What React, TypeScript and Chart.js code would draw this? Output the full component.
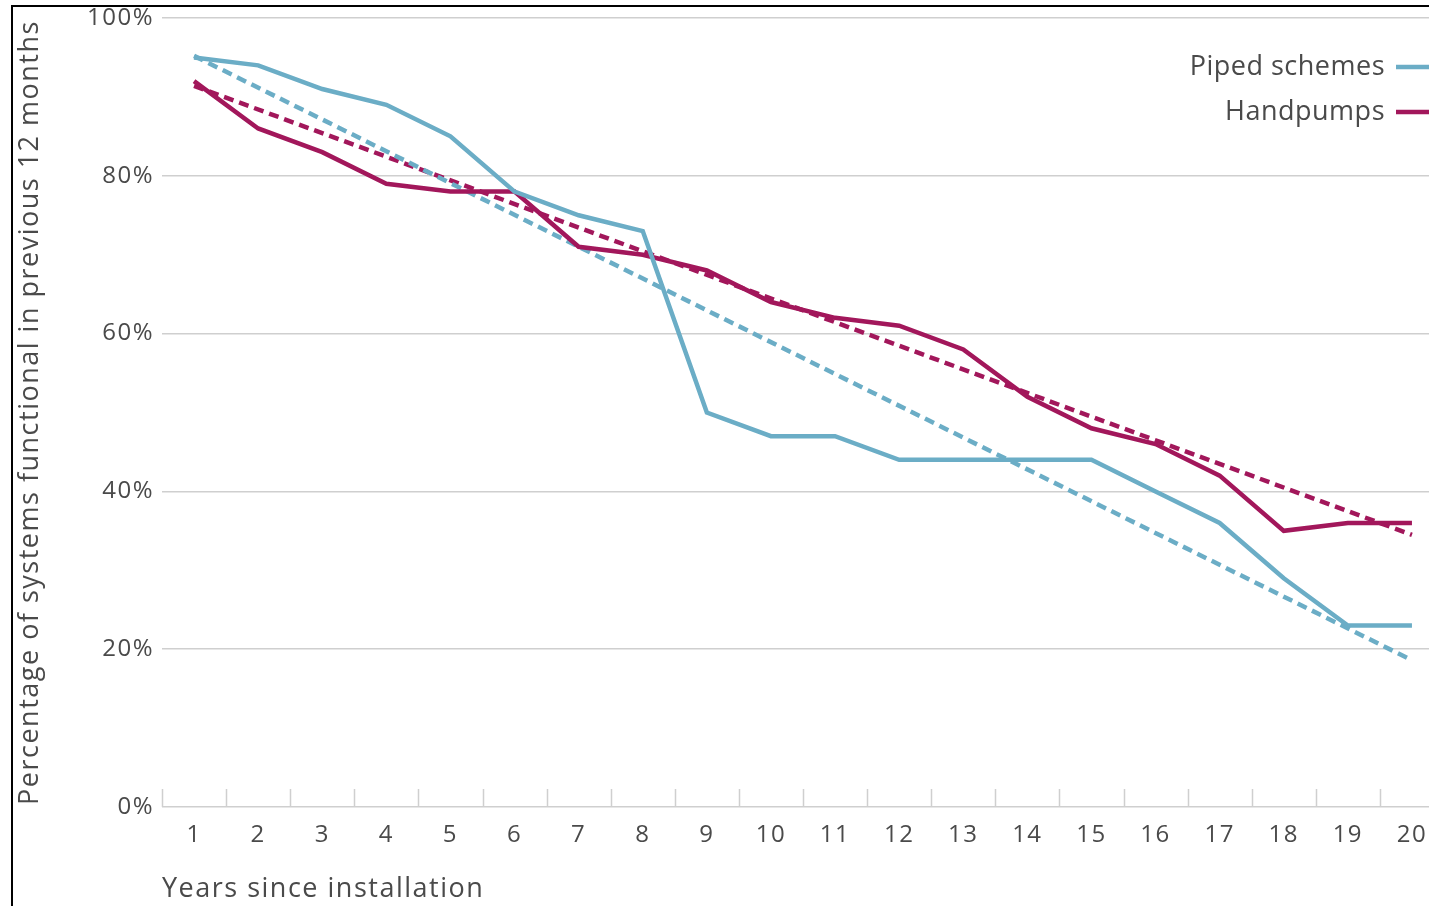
import React, { useEffect, useRef } from 'react';
import { Chart, registerables } from 'chart.js';

Chart.register(...registerables);

const years = ['1', '2', '3', '4', '5', '6', '7', '8', '9', '10', '11', '12', '13', '14', '15', '16', '17', '18', '19', '20'];
const pipedSchemes = [95, 94, 91, 89, 85, 78, 75, 73, 50, 47, 47, 44, 44, 44, 44, 40, 36, 29, 23, 23];
const handpumps = [92, 86, 83, 79, 78, 78, 71, 70, 68, 64, 62, 61, 58, 52, 48, 46, 42, 35, 36, 36];
// linear trend values at year 1 and year 20
const pipedTrend = [95.2, 18.6];
const handpumpTrend = [91.4, 34.5];
const yTickValues = [0, 20, 40, 60, 80, 100];

const BLUE = '#6badc6';
const MAGENTA = '#a2175b';
const TEXT = '#4a4a4a';
const GRID = '#cfcfcf';
const FONT = '"Open Sans", sans-serif';
const LINE_W = 4.5;

const legendItems = [
  { label: 'Piped schemes', color: BLUE },
  { label: 'Handpumps', color: MAGENTA },
];

const spacingPlugin = {
  id: 'letterSpacing',
  beforeDraw(chart: any) {
    (chart.ctx as any).letterSpacing = '1.5px';
  },
};

const customPlugin = {
  id: 'customDecor',
  afterDraw(chart: any) {
    const { ctx, chartArea } = chart;
    // upward tick marks on x axis at category boundaries
    ctx.save();
    ctx.strokeStyle = GRID;
    ctx.lineWidth = 1.5;
    const n = years.length;
    const step = (chartArea.right - chartArea.left) / n;
    for (let i = 0; i <= n; i++) {
      const px = Math.round(chartArea.left + i * step) + 0.5;
      ctx.beginPath();
      ctx.moveTo(px, chartArea.bottom);
      ctx.lineTo(px, chartArea.bottom - 18);
      ctx.stroke();
    }
    ctx.restore();

    // legend: text then line sample on the right
    ctx.save();
    (ctx as any).letterSpacing = '0.5px';
    ctx.font = `27px ${FONT}`;
    ctx.textAlign = 'right';
    ctx.textBaseline = 'middle';
    legendItems.forEach((it, i) => {
      const y = chartArea.top + 49 + i * 45;
      ctx.fillStyle = TEXT;
      ctx.fillText(it.label, chartArea.right - 59, y);
      ctx.strokeStyle = it.color;
      ctx.lineWidth = LINE_W;
      ctx.beginPath();
      ctx.moveTo(chartArea.right - 48, y);
      ctx.lineTo(chartArea.right + 10, y);
      ctx.stroke();
    });
    ctx.restore();
  },
};

export default function App() {
  const canvasRef = useRef<HTMLCanvasElement | null>(null);

  useEffect(() => {
    if (!canvasRef.current) return;
    const chart = new Chart(canvasRef.current, {
      type: 'line',
      data: {
        labels: years,
        datasets: [
          {
            label: 'Piped schemes',
            data: pipedSchemes,
            borderColor: BLUE,
            borderWidth: LINE_W,
            pointRadius: 0,
            tension: 0,
            order: 0,
          },
          {
            label: 'Handpumps',
            data: handpumps,
            borderColor: MAGENTA,
            borderWidth: LINE_W,
            pointRadius: 0,
            tension: 0,
            order: 0,
          },
          {
            label: 'Piped schemes trend',
            data: [
              { x: years[0], y: pipedTrend[0] },
              { x: years[years.length - 1], y: pipedTrend[1] },
            ] as any,
            borderColor: BLUE,
            borderWidth: LINE_W,
            borderDash: [10, 6],
            pointRadius: 0,
            order: 1,
          },
          {
            label: 'Handpumps trend',
            data: [
              { x: years[0], y: handpumpTrend[0] },
              { x: years[years.length - 1], y: handpumpTrend[1] },
            ] as any,
            borderColor: MAGENTA,
            borderWidth: LINE_W,
            borderDash: [10, 6],
            pointRadius: 0,
            order: 1,
          },
        ],
      },
      options: {
        animation: false,
        responsive: true,
        maintainAspectRatio: false,
        layout: { padding: { top: 18, left: 0, right: 0, bottom: 0 } },
        plugins: {
          legend: { display: false },
          tooltip: { enabled: false },
        },
        scales: {
          x: {
            type: 'category',
            offset: true,
            grid: { display: false, drawTicks: false },
            border: { display: false },
            ticks: {
              color: TEXT,
              font: { family: FONT, size: 24 },
              padding: 14,
              maxRotation: 0,
              autoSkip: false,
            },
            title: {
              display: true,
              text: 'Years since installation',
              align: 'start',
              color: TEXT,
              font: { family: FONT, size: 27 },
              padding: { top: 0, bottom: 0 },
            },
            afterFit: (scale: any) => {
              scale.height = 99;
            },
          },
          y: {
            min: 0,
            max: 100,
            afterBuildTicks: (scale: any) => {
              scale.ticks = yTickValues.map((v) => ({ value: v }));
            },
            grid: { color: GRID, lineWidth: 1.5, drawTicks: false },
            border: { display: false },
            ticks: {
              color: TEXT,
              font: { family: FONT, size: 24 },
              padding: 8,
              callback: (v: any) => `${v}%`,
            },
            title: {
              display: true,
              text: 'Percentage of systems functional in previous 12 months',
              color: TEXT,
              font: { family: FONT, size: 27 },
              padding: { top: 14, bottom: 0 },
            },
            afterFit: (scale: any) => {
              scale.width = 162;
              scale.paddingTop = 0;
              scale.paddingBottom = 0;
            },
          },
        },
      },
      plugins: [spacingPlugin, customPlugin],
    });
    return () => chart.destroy();
  }, []);

  return (
    <div style={{ position: 'fixed', inset: 0, overflow: 'hidden', background: '#fff' }}>
      <div
        style={{
          position: 'absolute',
          left: 11,
          top: 5,
          width: 3000,
          height: 3000,
          border: '2px solid #000',
        }}
      />
      <div style={{ position: 'absolute', left: 0, top: 0, width: 1444, height: 906 }}>
        <canvas ref={canvasRef} />
      </div>
    </div>
  );
}
